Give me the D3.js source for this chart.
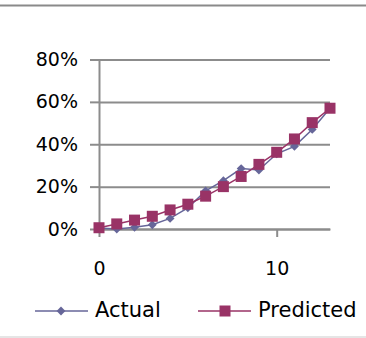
<!DOCTYPE html>
<html><head><meta charset="utf-8">
<script src="https://cdn.jsdelivr.net/npm/d3@7"></script>
<style>html,body{margin:0;padding:0;background:#fff;}svg{display:block;}</style>
</head><body>
<script>
const xValues = [0,1,2,3,4,5,6,7,8,9,10,11,12,13];
const actual = [0.005,0.0,0.008,0.02,0.05,0.10,0.18,0.228,0.285,0.278,0.355,0.39,0.47,0.57];
const predicted = [0.006,0.024,0.042,0.06,0.09,0.117,0.155,0.20,0.248,0.305,0.362,0.425,0.502,0.57];
const seriesNames = ["Actual","Predicted"];
const yTicks = [0,0.2,0.4,0.6,0.8];
const xTicks = [0,10];

const W=366,H=338;
const svg=d3.select("body").append("svg").attr("width",W).attr("height",H);
const font="DejaVu Sans";
const gridCol="#8c8c8c";
const colA="#666699", colP="#993366";

// frame lines
svg.append("line").attr("x1",0).attr("x2",W).attr("y1",5.5).attr("y2",5.5).attr("stroke","#8a8a8a").attr("stroke-width",2);
svg.append("line").attr("x1",0).attr("x2",W).attr("y1",337).attr("y2",337).attr("stroke","#dddddd").attr("stroke-width",1.5);

const x=d3.scaleLinear().domain([0,13]).range([99,330]);
const y=d3.scaleLinear().domain([0,0.8]).range([229,59.5]);

// gridlines
const grid=svg.append("g").attr("transform","translate(99,0)")
  .call(d3.axisLeft(y).tickValues(yTicks).tickSize(-(330-99)).tickFormat(""));
grid.select(".domain").remove();
grid.selectAll("line").attr("stroke",gridCol).attr("stroke-width",2);

// y axis
const ya=svg.append("g").attr("transform","translate(99,0)")
  .call(d3.axisLeft(y).tickValues(yTicks).tickSize(9).tickSizeOuter(0).tickPadding(12).tickFormat(d3.format(".0%")));
ya.select(".domain").attr("stroke",gridCol).attr("stroke-width",2);
ya.selectAll("line").attr("stroke",gridCol).attr("stroke-width",2);
ya.selectAll("text").attr("font-family",font).attr("font-size",19).attr("fill","#000");

// x axis
const xa=svg.append("g").attr("transform","translate(0,229)")
  .call(d3.axisBottom(x).tickValues(xTicks).tickSize(8).tickSizeOuter(0).tickPadding(25).tickFormat(d3.format("d")));
xa.select(".domain").attr("stroke",gridCol).attr("stroke-width",2);
xa.selectAll("line").attr("stroke",gridCol).attr("stroke-width",2);
xa.selectAll("text").attr("font-family",font).attr("font-size",19).attr("fill","#000");

const line=d3.line().x((d,i)=>x(xValues[i])).y(d=>y(d));
// Actual series
svg.append("path").datum(actual).attr("d",line).attr("fill","none").attr("stroke",colA).attr("stroke-width",1.5);
svg.append("g").selectAll("path").data(actual).join("path")
  .attr("transform",(d,i)=>`translate(${x(xValues[i])},${y(d)})`)
  .attr("d",d3.symbol(d3.symbolDiamond2,50)).attr("fill",colA);
// Predicted series
svg.append("path").datum(predicted).attr("d",line).attr("fill","none").attr("stroke",colP).attr("stroke-width",1.5);
svg.append("g").selectAll("rect").data(predicted).join("rect")
  .attr("x",(d,i)=>x(xValues[i])-5.5).attr("y",d=>y(d)-5.5).attr("width",11).attr("height",11).attr("fill",colP);

// legend
const ly=311;
const lg=svg.append("g");
lg.append("line").attr("x1",35).attr("x2",88).attr("y1",ly).attr("y2",ly).attr("stroke",colA).attr("stroke-width",1.5);
lg.append("path").attr("transform",`translate(61,${ly})`).attr("d",d3.symbol(d3.symbolDiamond2,50)).attr("fill",colA);
lg.append("text").attr("x",95).attr("y",ly+6).attr("font-family",font).attr("font-size",21).text(seriesNames[0]);
lg.append("line").attr("x1",198).attr("x2",251).attr("y1",ly).attr("y2",ly).attr("stroke",colP).attr("stroke-width",1.5);
lg.append("rect").attr("x",225-5.5).attr("y",ly-5.5).attr("width",11).attr("height",11).attr("fill",colP);
lg.append("text").attr("x",258).attr("y",ly+6).attr("font-family",font).attr("font-size",21).text(seriesNames[1]);
</script>
</body></html>
